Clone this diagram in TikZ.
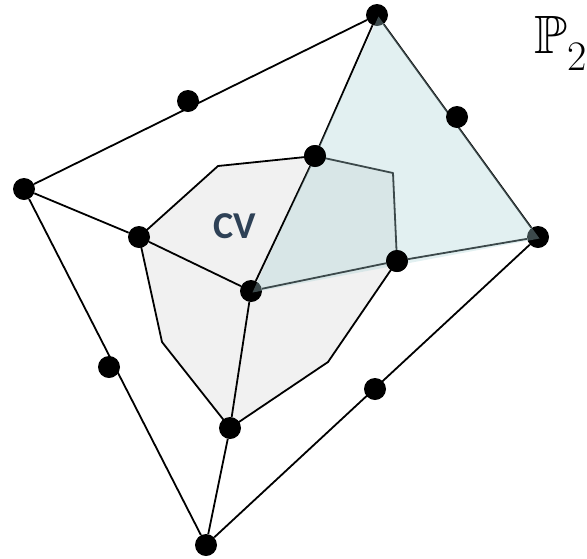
\documentclass[tikz,border=0pt]{standalone}
\usepackage{amssymb}
\usepackage{fontspec}
\newfontfamily\cvfont{Carlito}
\usepackage{tikz}

\definecolor{cvgrey}{HTML}{F1F1F1}
\definecolor{simplex}{RGB}{172,212,215}
\definecolor{cvtext}{HTML}{2E4156}

\pgfdeclarelayer{background}
\pgfsetlayers{background,main}

\newcommand{\spacename}{%
  {\fontsize{54}{60}\selectfont$\mathbb{P}$}%
  \raisebox{-17pt}{\fontsize{42}{46}\selectfont 2}}

\begin{document}
\begin{tikzpicture}[
  x=1pt, y=-1pt,
  vertex/.style={circle, fill=black, inner sep=0pt, minimum size=22pt},
  edge/.style={line width=1.8pt, draw=black},
  region/.style={line width=1.8pt, draw=black, fill=cvgrey, line join=round},
  overlay/.style={fill=simplex, fill opacity=0.35},
  cvlabel/.style={font=\cvfont\bfseries\fontsize{38}{42}\selectfont, text=cvtext}
]
\useasboundingbox (0,0) rectangle (587,558);

% corners of the region CV
\coordinate (cv1) at (218,166);
\coordinate (cv2) at (393,173);
\coordinate (cv3) at (328,362);
\coordinate (cv4) at (162,342);

% outer vertices
\node[vertex] (top)    at (377,15)  {};
\node[vertex] (right)  at (538,237) {};
\node[vertex] (left)   at (24,189)  {};
\node[vertex] (bottom) at (206,545) {};

% inner vertices
\node[vertex] (inntop)   at (315,156) {};
\node[vertex] (innleft)  at (139,237) {};
\node[vertex] (center)   at (251,291) {};
\node[vertex] (innright) at (397,261) {};
\node[vertex] (innlow)   at (230,428) {};

\begin{pgfonlayer}{background}
\draw[region] (innleft.center) -- (cv1) -- (inntop.center) -- (cv2)
  -- (innright.center) -- (cv3) -- (innlow.center) -- (cv4) -- cycle;
\draw[edge] (top) -- (left);
\draw[edge] (top) -- (right);
\draw[edge] (left) -- (bottom);
\draw[edge] (bottom) -- (right);
\draw[edge] (left) -- (innleft);
\draw[edge] (innleft) -- (center);
\draw[edge] (center) -- (inntop);
\draw[edge] (inntop) -- (top);
\draw[edge] (center) -- (innright);
\draw[edge] (innright) -- (right);
\draw[edge] (center) -- (innlow);
\draw[edge] (innlow) -- (bottom);
\end{pgfonlayer}

\fill[overlay] ([shift={(1.5,1.5)}]top.center) -- ([shift={(1.5,1.5)}]right.center)
  -- ([shift={(1.5,1.5)}]center.center) -- cycle;

% points on the outer edges
\node[vertex] (midtl) at (188,101) {};
\node[vertex] (midtr) at (457,117) {};
\node[vertex] (midbl) at (109,367) {};
\node[vertex] (midbr) at (375,389) {};
\node[vertex] at (inntop) {};
\node[vertex] at (innright) {};

\node[cvlabel] (cv) at (235,226) {CV};
\node[inner sep=0pt, anchor=base east] (space) at (587,53) {\spacename};

\end{tikzpicture}
\end{document}
